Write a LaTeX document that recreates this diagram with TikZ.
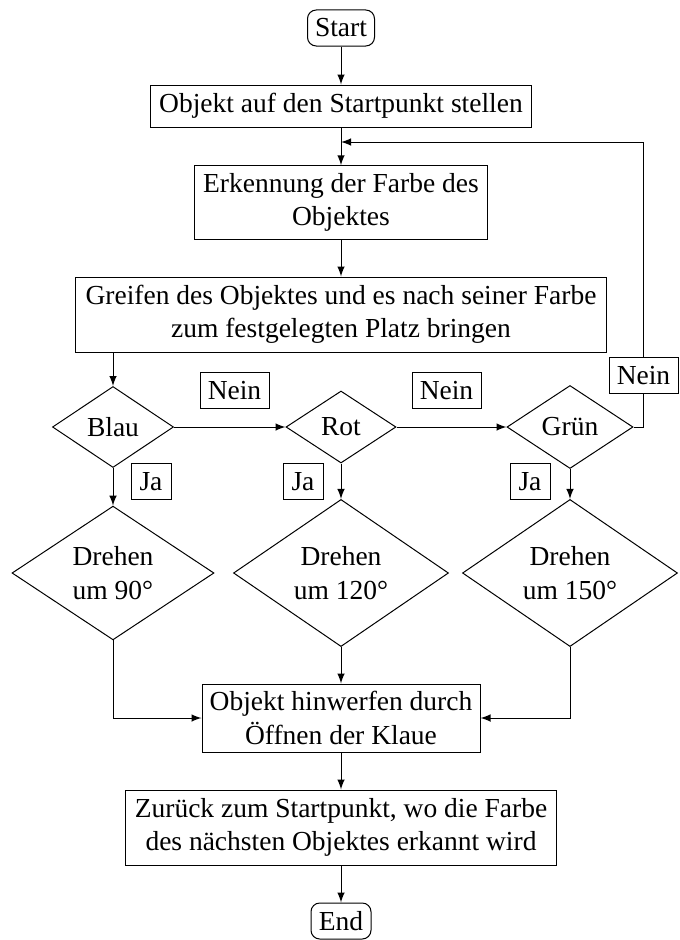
\documentclass[tikz,border=0pt]{standalone}
\usepackage{fontspec}
\setmainfont{Liberation Serif}
\usetikzlibrary{shapes.geometric}
\begin{document}
\begin{tikzpicture}[x=0.4pt,y=-0.4pt,
  every node/.style={font=\fontsize{11}{13.4}\selectfont},
  proc/.style={draw,rectangle,align=center,inner sep=0pt,line width=0.4pt},
  term/.style={draw,rectangle,rounded corners=3.5pt,inner sep=0pt,minimum width=26.8pt,minimum height=14.4pt},
  dec/.style={draw,diamond,inner sep=0pt,align=center},
  lab/.style={draw,rectangle,fill=white,inner sep=0pt,minimum height=14.6pt},
  conn/.style={-latex,line width=0.4pt}]
\useasboundingbox (0,0) rectangle (680,940);

\node[term] (start) at (341,28) {Start};
\node[proc,minimum width=152.4pt,minimum height=16.8pt] (b1) at (341,106) {Objekt auf den Startpunkt stellen};
\node[proc,minimum width=117.2pt,minimum height=29.4pt] (b2) at (341,202.5) {Erkennung der Farbe des\\Objektes};
\node[proc,minimum width=212.4pt,minimum height=30pt] (b3) at (341,314.5) {Greifen des Objektes und es nach seiner Farbe\\zum festgelegten Platz bringen};

\node[dec,minimum width=48.4pt,minimum height=32.4pt] (blau) at (113,427) {Blau};
\node[dec,minimum width=44pt,minimum height=28.8pt] (rot) at (341,427) {Rot};
\node[dec,minimum width=50.4pt,minimum height=33.2pt] (gruen) at (570,427) {Grün};

\node[dec,minimum width=80.8pt,minimum height=53.2pt] (d1) at (113,573) {Drehen\\um 90°};
\node[dec,minimum width=86pt,minimum height=56pt] (d2) at (341,573) {Drehen\\um 120°};
\node[dec,minimum width=86pt,minimum height=56pt] (d3) at (570,573) {Drehen\\um 150°};

\node[proc,minimum width=111.2pt,minimum height=27.2pt] (b4) at (341,718) {Objekt hinwerfen durch\\Öffnen der Klaue};
\node[proc,minimum width=172pt,minimum height=30pt] (b5) at (341,827.5) {Zurück zum Startpunkt, wo die Farbe\\des nächsten Objektes erkannt wird};
\node[term,minimum width=24pt] (end) at (341,921) {End};

\coordinate (loopin) at (341,142);
\coordinate (loopr) at (643,142);

\draw[conn] (start) -- (b1);
\draw[conn] (b1) -- (b2);
\draw[conn] (b2) -- (b3);
\draw[conn] (b3.south -| blau.north) -- (blau.north);
\draw[conn] (blau.east) -- (rot.west);
\draw[conn] (rot.east) -- (gruen.west);
\draw[conn] (gruen.east) -| (loopr) -- (loopin);
\draw[conn] (blau.south) -- (d1.north);
\draw[conn] (rot.south) -- (d2.north);
\draw[conn] (gruen.south) -- (d3.north);
\draw[conn] (d1.south) |- (b4.west);
\draw[conn] (d3.south) |- (b4.east);
\draw[conn] (d2.south) -- (b4.north);
\draw[conn] (b4) -- (b5);
\draw[conn] (b5) -- (end);

\node[lab,minimum width=27.6pt] (n1) at (234.5,390.5) {Nein};
\node[lab,minimum width=27.6pt] (n2) at (446.5,390.5) {Nein};
\node[lab,minimum width=27.6pt] (n3) at (643.5,375.5) {Nein};
\node[lab,minimum width=16pt] (j1) at (151,481.5) {Ja};
\node[lab,minimum width=16pt] (j2) at (303,481.5) {Ja};
\node[lab,minimum width=16pt] (j3) at (530,481.5) {Ja};
\end{tikzpicture}
\end{document}
